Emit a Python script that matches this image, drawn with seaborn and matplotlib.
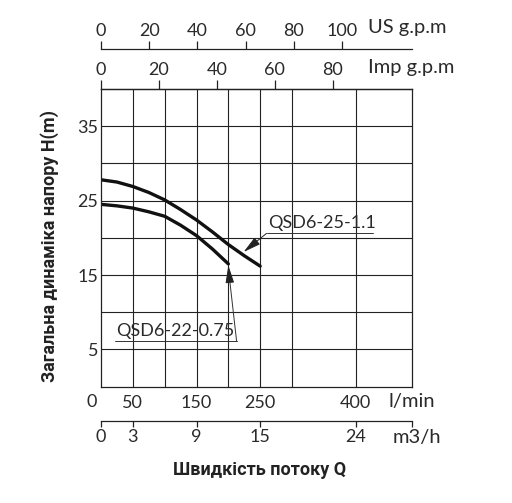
import matplotlib
matplotlib.use("Agg")
import matplotlib.pyplot as plt
import seaborn as sns
import pandas as pd
import numpy as np

# ---- data ----
flow_25 = [0, 25, 50, 75, 100, 125, 150, 175, 200, 225, 250]          # l/min
head_25 = [27.8, 27.5, 26.9, 26.1, 25.1, 23.8, 22.4, 20.8, 19.1, 17.6, 16.2]
flow_22 = [0, 25, 50, 75, 100, 125, 150, 175, 200]
head_22 = [24.5, 24.3, 24.0, 23.5, 22.9, 21.7, 20.3, 18.5, 16.5]
name_25 = "QSD6-25-1.1"
name_22 = "QSD6-22-0.75"

x_grid = [50, 100, 150, 200, 250, 300, 400]
x_labels = ["50", "", "150", "", "250", "", "400"]
y_grid = [5, 10, 15, 20, 25, 30, 35]
y_labels = ["5", "", "15", "", "25", "", "35"]
us_ticks = [0, 20, 40, 60, 80, 100]
imp_ticks = [0, 20, 40, 60, 80]
m3h_ticks = [0, 3, 9, 15, 24]
x_max = 488
y_max = 40

sns.set_theme(style="white")
plt.rcParams["font.family"] = ["Lato", "DejaVu Sans"]

W, H = 512, 503
fig = plt.figure(figsize=(W / 100, H / 100), dpi=100)
L, R, T, B = 101, 411.7, 89, 386.7
ax = fig.add_axes([L / W, 1 - B / H, (R - L) / W, (B - T) / H])

df = pd.concat([
    pd.DataFrame({"flow": flow_25, "head": head_25, "model": name_25}),
    pd.DataFrame({"flow": flow_22, "head": head_22, "model": name_22}),
])
sns.lineplot(data=df, x="flow", y="head", units="model", estimator=None,
             color="#111111", lw=2.4, ax=ax, legend=False)

FS = 13
FW = "normal"
TC = "#2a2a2a"
ax.set_xlim(0, x_max)
ax.set_ylim(0, y_max)
lc = "#222222"
ax.set_xticks(x_grid)
ax.set_xticklabels(x_labels)
ax.set_yticks(y_grid)
ax.set_yticklabels(y_labels)
ax.grid(True, color=lc, lw=0.8)
for s in ax.spines.values():
    s.set_color(lc)
    s.set_linewidth(0.9)
tkw = dict(fontsize=FS, fontweight=FW, color=TC)
ukw = dict(fontsize=14.5, fontweight=FW, color=TC)
ax.tick_params(axis="x", length=0, pad=6, labelsize=FS, labelcolor=TC)
ax.tick_params(axis="y", length=0, pad=2, labelsize=FS, labelcolor=TC)
for lab in ax.get_xticklabels() + ax.get_yticklabels():
    lab.set_fontweight(FW)
ax.set_xlabel("")
ax.set_ylabel("")

def px(x, y):
    return x / W, 1 - y / H

# secondary axes
frac_us = (B - 49.3) / (B - T)
sec_us = ax.secondary_xaxis(frac_us, functions=(lambda v: v / 3.785, lambda v: v * 3.785))
sec_us.set_xticks(us_ticks)
sec_imp = ax.secondary_xaxis("top", functions=(lambda v: v / 4.546, lambda v: v * 4.546))
sec_imp.set_xticks(imp_ticks)
frac_m3 = (B - 420.7) / (B - T)
sec_m3 = ax.secondary_xaxis(frac_m3, functions=(lambda v: v * 0.06, lambda v: v / 0.06))
sec_m3.set_xticks(m3h_ticks + [x_max * 0.06])
sec_m3.set_xticklabels([str(t) for t in m3h_ticks] + [""])
for sec, ln in ((sec_us, 6), (sec_imp, 6.5), (sec_m3, 4.5)):
    sec.tick_params(direction="out", length=ln, width=0.9, color=lc, pad=1.5,
                    labelsize=FS, labelcolor=TC)
    for s in sec.spines.values():
        s.set_color(lc)
        s.set_linewidth(0.9)
    for lab in sec.get_xticklabels():
        lab.set_fontweight(FW)

fig.text(*px(92, 402), "0", ha="center", va="center", **tkw)
fig.text(*px(412, 402), "l/min", ha="center", va="center", **ukw)
fig.text(*px(417, 438), "m3/h", ha="center", va="center", **ukw)
fig.text(*px(368, 27), "US g.p.m", ha="left", va="center", **ukw)
fig.text(*px(368, 68), "Imp g.p.m", ha="left", va="center", **ukw)

# axis titles
fig.text(*px(260, 470), "Швидкість потоку Q", ha="center", va="center",
         fontsize=13, fontweight="bold", family=["Roboto", "DejaVu Sans"], color="#222222")
fig.text(*px(50, 246), "Загальна динаміка напору H(m)", ha="center", va="center",
         rotation=90, fontsize=13, fontweight="bold", family=["Roboto", "DejaVu Sans"],
         color="#222222")

# annotations
ak = dict(arrowstyle="-|>,head_length=0.9,head_width=0.22", color="#222222", lw=0.7,
          shrinkA=0, shrinkB=0)
ax.annotate("", xy=(224, 18.1), xytext=(260, 20.6), arrowprops=ak)
ax.plot([260, 427], [20.6, 20.6], color="#333333", lw=0.7)
ax.text(263, 20.9, name_25, ha="left", va="bottom", fontsize=FS, fontweight=FW,
        color=TC)
ax.annotate("", xy=(200, 16.3), xytext=(201.5, 14.8), arrowprops=ak)
ax.plot([201.5, 213], [14.8, 6.1], color="#333333", lw=0.7)
ax.plot([22, 213], [6.1, 6.1], color="#333333", lw=0.7)
ax.text(23, 6.4, name_22, ha="left", va="bottom", fontsize=FS, fontweight=FW,
        color=TC)

fig.savefig("out.png", dpi=100)
